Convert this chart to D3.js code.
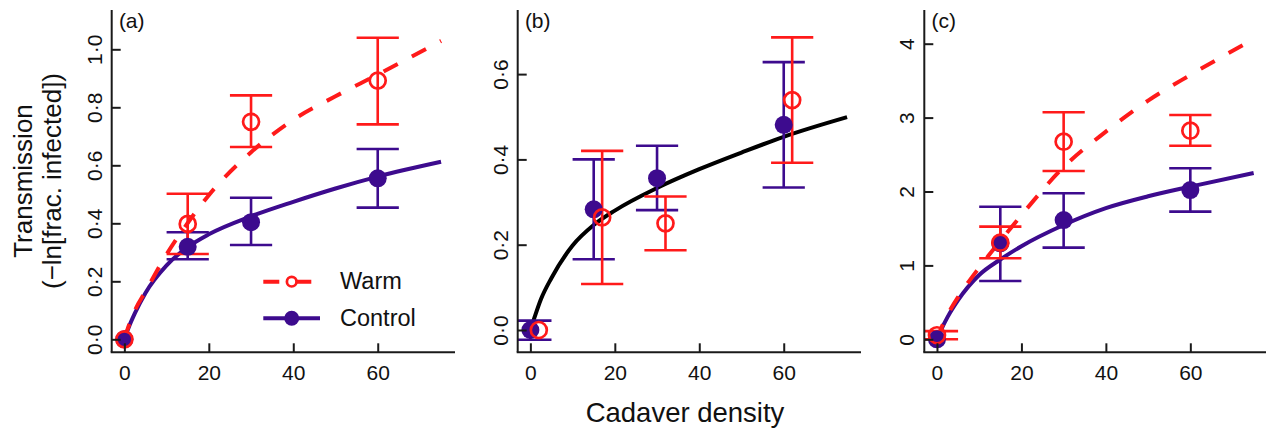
<!DOCTYPE html>
<html><head><meta charset="utf-8">
<script src="https://cdn.jsdelivr.net/npm/d3@7"></script>
<style>
body{margin:0;background:#fff}
svg{display:block}
text{font-family:"Liberation Sans",Arial,Helvetica,sans-serif;fill:#111}
</style>
</head><body>
<svg id="chart" width="1266" height="429"></svg>
<script>
// ---------------- data ----------------
const density = [0, 15, 30, 60];
const densityWarmB = [2, 17, 32, 62];
const xTicks = [0, 20, 40, 60];
const aYTicks = [0, 0.2, 0.4, 0.6, 0.8, 1.0];
const bYTicks = [0, 0.2, 0.4, 0.6];
const cYTicks = [0, 1, 2, 3, 4];
const panelLabels = ["(a)", "(b)", "(c)"];
const seriesNames = ["Warm", "Control"];

// panel (a)
const aControlMean = [0, 0.319, 0.404, 0.555];
const aControlLo   = [0, 0.276, 0.325, 0.454];
const aControlHi   = [0, 0.369, 0.488, 0.656];
const aWarmMean    = [0, 0.398, 0.750, 0.892];
const aWarmLo      = [0, 0.294, 0.663, 0.741];
const aWarmHi      = [0, 0.502, 0.841, 1.040];
// panel (b)
const bControlMean = [0, 0.283, 0.356, 0.481];
const bControlLo   = [-0.023, 0.166, 0.281, 0.334];
const bControlHi   = [0.022, 0.400, 0.432, 0.628];
const bWarmMean    = [0, 0.264, 0.250, 0.539];
const bWarmLo      = [0, 0.108, 0.187, 0.392];
const bWarmHi      = [0, 0.420, 0.313, 0.686];
// panel (c)
const cControlMean = [0, 1.299, 1.614, 2.020];
const cControlLo   = [0, 0.789, 1.240, 1.727];
const cControlHi   = [0, 1.794, 1.976, 2.314];
const cWarmMean    = [0.055, 1.307, 2.674, 2.823];
const cWarmLo      = [0, 1.096, 2.278, 2.620];
const cWarmHi      = [0.11, 1.524, 3.072, 3.035];

// fitted curves
const fitDensity  = [0, 1, 2.5, 5, 10, 15, 20, 30, 40, 50, 60, 75];
const aControlFit = [0, 0.04, 0.09, 0.16, 0.255, 0.318, 0.362, 0.424, 0.474, 0.520, 0.561, 0.612];
const aWarmFit    = [0, 0.045, 0.10, 0.165, 0.293, 0.401, 0.497, 0.645, 0.757, 0.838, 0.913, 1.029];
const bPooledFit  = [0, 0.03, 0.072, 0.122, 0.198, 0.246, 0.280, 0.333, 0.377, 0.416, 0.453, 0.499];
const cControlFit = [0, 0.13, 0.30, 0.53, 0.87, 1.08, 1.26, 1.547, 1.775, 1.935, 2.066, 2.25];
const cWarmFit    = [0, 0.15, 0.33, 0.57, 0.97, 1.33, 1.68, 2.33, 2.81, 3.23, 3.577, 4.06];

// ---------------- styles / layout ----------------
const RED = "#ff1a1a", PURPLE = "#3d0b8e", BLACK = "#000";
const W = 343.3, TOP = 10, BOTTOM = 352.3;
const dot = v => d3.format(".1f")(v).replace(".", "·");
const intf = v => String(v);

const panels = [
  { label: panelLabels[0], left: 111.7, yDomain: [-0.0448, 1.1355], yTicks: aYTicks, fmt: dot,
    fits: [ {y: aControlFit, color: PURPLE, dash: null}, {y: aWarmFit, color: RED, dash: "16,16"} ],
    series: [
      {x: density, mean: aControlMean, lo: aControlLo, hi: aControlHi, color: PURPLE, filled: true},
      {x: density, mean: aWarmMean, lo: aWarmLo, hi: aWarmHi, color: RED, filled: false} ] },
  { label: panelLabels[1], left: 517.7, yDomain: [-0.0523, 0.7503], yTicks: bYTicks, fmt: dot,
    fits: [ {y: bPooledFit, color: BLACK, dash: null} ],
    series: [
      {x: density, mean: bControlMean, lo: bControlLo, hi: bControlHi, color: PURPLE, filled: true},
      {x: densityWarmB, mean: bWarmMean, lo: bWarmLo, hi: bWarmHi, color: RED, filled: false} ] },
  { label: panelLabels[2], left: 924.3, yDomain: [-0.176, 4.456], yTicks: cYTicks, fmt: intf,
    fits: [ {y: cControlFit, color: PURPLE, dash: null}, {y: cWarmFit, color: RED, dash: "16,16"} ],
    series: [
      {x: density, mean: cControlMean, lo: cControlLo, hi: cControlHi, color: PURPLE, filled: true},
      {x: density, mean: cWarmMean, lo: cWarmLo, hi: cWarmHi, color: RED, filled: false} ] }
];

const svg = d3.select("#chart");
svg.append("rect").attr("width", 1266).attr("height", 429).attr("fill", "#fff");
const defs = svg.append("defs");

panels.forEach((p, pi) => {
  const x = d3.scaleLinear().domain([-3, 78.3]).range([p.left, p.left + W]);
  const y = d3.scaleLinear().domain(p.yDomain).range([BOTTOM, TOP]);
  const g = svg.append("g");
  const cid = "clip" + pi;
  defs.append("clipPath").attr("id", cid).append("rect")
    .attr("x", p.left).attr("y", TOP).attr("width", W).attr("height", BOTTOM - TOP);
  const plot = g.append("g").attr("clip-path", `url(#${cid})`);

  // fitted curves
  const line = d3.line().x(d => x(d[0])).y(d => y(d[1])).curve(d3.curveMonotoneX);
  p.fits.forEach(f => {
    plot.append("path")
      .attr("d", line(fitDensity.map((d, i) => [d, f.y[i]])))
      .attr("fill", "none").attr("stroke", f.color).attr("stroke-width", 4)
      .attr("stroke-dasharray", f.dash);
  });

  // error bars
  p.series.forEach(s => {
    s.x.forEach((xv, i) => {
      if (s.hi[i] === s.lo[i]) return;
      const eb = plot.append("g").attr("stroke", s.color).attr("stroke-width", 2.6);
      eb.append("line").attr("x1", x(xv)).attr("x2", x(xv)).attr("y1", y(s.lo[i])).attr("y2", y(s.hi[i]));
      [s.lo[i], s.hi[i]].forEach(v => {
        eb.append("line").attr("x1", x(xv - 5)).attr("x2", x(xv + 5)).attr("y1", y(v)).attr("y2", y(v));
      });
    });
  });

  // points
  p.series.forEach(s => {
    g.selectAll(null).data(s.x.map((xv, i) => [xv, s.mean[i]])).join("circle")
      .attr("cx", d => x(d[0])).attr("cy", d => y(d[1]))
      .attr("r", s.filled ? 9 : 8)
      .attr("fill", s.filled ? s.color : "none")
      .attr("stroke", s.filled ? "none" : s.color)
      .attr("stroke-width", s.filled ? 0 : 2.7);
  });

  // axes
  const ax = g.append("g").attr("transform", `translate(0,${BOTTOM})`)
    .call(d3.axisBottom(x).tickValues(xTicks).tickSize(-9).tickPadding(12.5));
  const ay = g.append("g").attr("transform", `translate(${p.left},0)`)
    .call(d3.axisLeft(y).tickValues(p.yTicks).tickFormat(p.fmt).tickSize(-9).tickPadding(10));
  [ax, ay].forEach(a => {
    a.select(".domain").remove();
    a.selectAll(".tick line").attr("stroke", "#1a1a1a").attr("stroke-width", 2);
    a.selectAll("text").attr("font-size", 21).attr("fill", "#111")
      .style("font-family", "'Liberation Sans', Arial, Helvetica, sans-serif");
  });
  ay.selectAll("text").attr("transform", "rotate(-90)").attr("x", 0).attr("y", -10)
    .attr("dy", 0).attr("text-anchor", "middle");
  g.append("line").attr("x1", p.left).attr("x2", p.left).attr("y1", TOP).attr("y2", BOTTOM)
    .attr("stroke", "#1a1a1a").attr("stroke-width", 2);
  g.append("line").attr("x1", p.left - 1).attr("x2", p.left + W).attr("y1", BOTTOM).attr("y2", BOTTOM)
    .attr("stroke", "#1a1a1a").attr("stroke-width", 2);

  g.append("text").attr("x", x(-1.3)).attr("y", 27.5).attr("font-size", 21).text(p.label);
});

// legend (panel a)
const legendItems = [
  {name: seriesNames[0], color: RED, dash: "16,16", filled: false, r: 4.8, y: 281.7, ty: 288.5},
  {name: seriesNames[1], color: PURPLE, dash: null, filled: true, r: 7.5, y: 318.3, ty: 325.5}
];
const lg = svg.append("g");
legendItems.forEach(it => {
  lg.append("line").attr("x1", 263.3).attr("x2", 320).attr("y1", it.y).attr("y2", it.y)
    .attr("stroke", it.color).attr("stroke-width", 4).attr("stroke-dasharray", it.dash);
  lg.append("circle").attr("cx", 291.7).attr("cy", it.y).attr("r", it.r)
    .attr("fill", it.filled ? it.color : "#fff").attr("stroke", it.filled ? "none" : it.color)
    .attr("stroke-width", 2.7);
  lg.append("text").attr("x", 340).attr("y", it.ty).attr("font-size", 23.5).text(it.name);
});

// axis titles
svg.append("text").attr("transform", "translate(31.5,181) rotate(-90)")
  .attr("text-anchor", "middle").attr("font-size", 26).text("Transmission");
svg.append("text").attr("transform", "translate(61,181) rotate(-90)")
  .attr("text-anchor", "middle").attr("font-size", 26).text("(−ln[frac. infected])");
svg.append("text").attr("x", 685).attr("y", 421.5).attr("text-anchor", "middle")
  .attr("font-size", 27.5).text("Cadaver density");
</script>
</body></html>
